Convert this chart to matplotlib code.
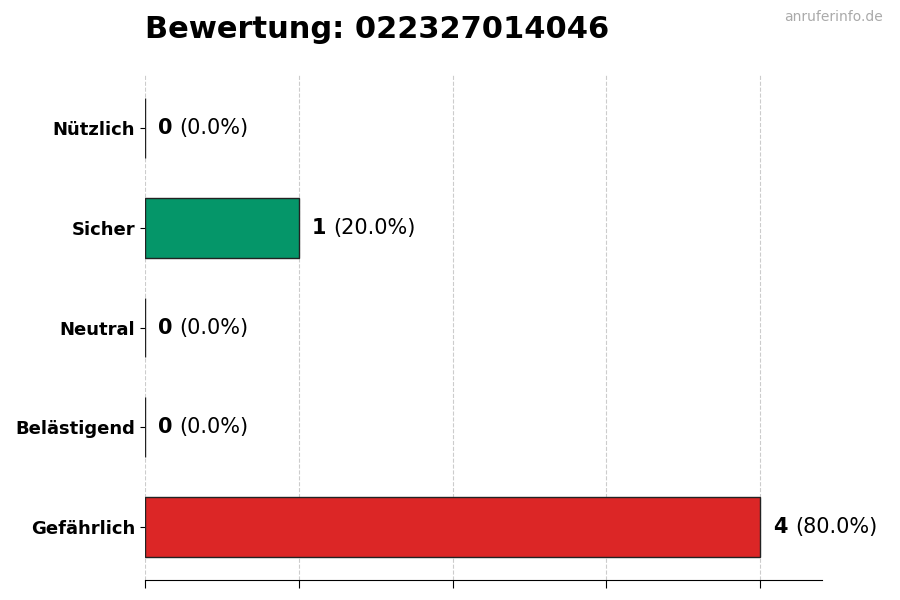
import matplotlib
matplotlib.use('Agg')
import matplotlib.pyplot as plt
from matplotlib.transforms import offset_copy

categories = ['Nützlich', 'Sicher', 'Neutral', 'Belästigend', 'Gefährlich']
counts = [0, 1, 0, 0, 4]
colors = ['#9ca3af', '#059669', '#6b7280', '#f59e0b', '#dc2626']
title = 'Bewertung: 022327014046'
total = sum(counts)

fig = plt.figure(figsize=(9, 6), dpi=100)
ax = fig.add_axes([0.161, 0.0333, 0.752, 0.8417])

ypos = list(range(len(categories)))[::-1]
ax.barh(ypos, counts, height=0.6, color=colors, edgecolor='#222222', linewidth=1, zorder=3)
ax.set_yticks(ypos)
ax.set_yticklabels(categories, fontsize=13, fontweight='bold')
ax.set_xlim(0, 4.4)
ax.set_xticks([0, 1, 2, 3, 4])
ax.set_xticklabels([])
ax.tick_params(axis='x', length=6)
ax.grid(axis='x', linestyle='--', color='#cccccc', linewidth=0.8, zorder=0)
for s in ['top', 'right', 'left']:
    ax.spines[s].set_visible(False)

fig.canvas.draw()
renderer = fig.canvas.get_renderer()
for y, c in zip(ypos, counts):
    pct = c / total * 100
    t1 = ax.text(c, y, str(c), fontsize=15, fontweight='bold', va='center', ha='left',
                 transform=offset_copy(ax.transData, fig=fig, x=9.5, y=0, units='points'))
    w = t1.get_window_extent(renderer).width * 72 / fig.dpi
    ax.text(c, y, f'({pct:.1f}%)', fontsize=15, va='center', ha='left',
            transform=offset_copy(ax.transData, fig=fig, x=9.5 + w + 5, y=0, units='points'))

fig.text(0.161, 0.95, title, fontsize=22, fontweight='bold', ha='left', va='center')
fig.text(0.981, 0.972, 'anruferinfo.de', fontsize=10, color='#aaaaaa', ha='right', va='center')

fig.savefig('out.png', dpi=100)
